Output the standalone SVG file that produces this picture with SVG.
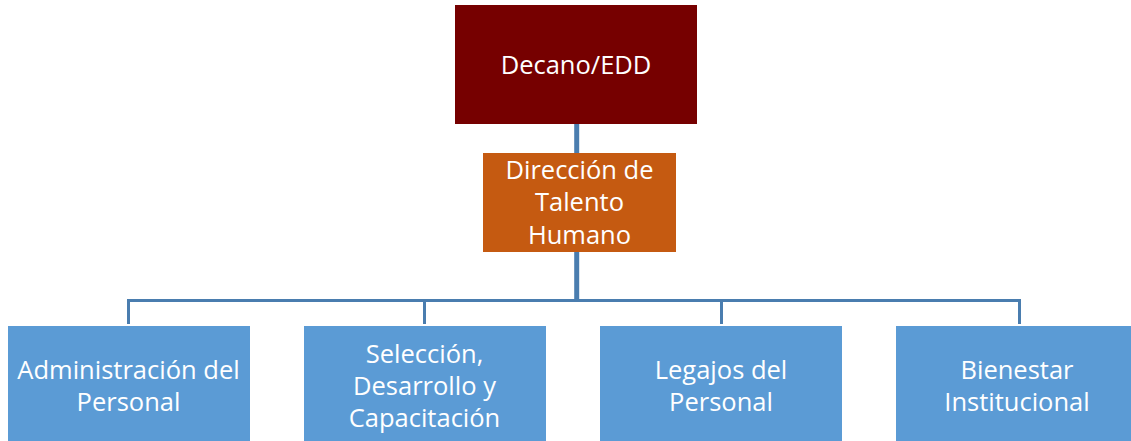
<svg xmlns="http://www.w3.org/2000/svg" width="1131" height="441" viewBox="0 0 1131 441">
<style>
.t{font-family:"Open Sans","Liberation Sans",sans-serif;font-size:25.5px;fill:#ffffff;text-anchor:middle}
.leaf{fill:#5B9BD5}
.c{stroke:#4A7DAF;fill:none}
</style>
<rect width="1131" height="441" fill="#ffffff"/>
<g id="connectors">
<line class="c" x1="576.7" y1="124" x2="576.7" y2="153" stroke-width="5"/>
<line class="c" x1="576.7" y1="252" x2="576.7" y2="300" stroke-width="5"/>
<polyline class="c" points="128.5,324 128.5,300.5 1019.5,300.5 1019.5,324" stroke-width="3"/>
<line class="c" x1="424.5" y1="300.5" x2="424.5" y2="324" stroke-width="3"/>
<line class="c" x1="721.5" y1="300.5" x2="721.5" y2="324" stroke-width="3"/>
</g>
<g id="decano">
<rect x="455" y="5" width="242" height="119" fill="#760000"/>
<text class="t" x="576" y="73.5">Decano/EDD</text>
</g>
<g id="talento">
<rect x="483" y="153" width="193" height="99" fill="#C55A11"/>
<text class="t" x="579.5" y="178.5">Dirección de</text>
<text class="t" x="579.5" y="211">Talento</text>
<text class="t" x="579.5" y="243.5">Humano</text>
</g>
<g id="administracion">
<rect class="leaf" x="8" y="326" width="242" height="120"/>
<text class="t" x="128.5" y="378.5">Administración del</text>
<text class="t" x="128.5" y="410.5">Personal</text>
</g>
<g id="seleccion">
<rect class="leaf" x="304" y="326" width="242" height="120"/>
<text class="t" x="424.5" y="362.5">Selección,</text>
<text class="t" x="424.5" y="394.5">Desarrollo y</text>
<text class="t" x="424.5" y="426.5">Capacitación</text>
</g>
<g id="legajos">
<rect class="leaf" x="600" y="326" width="242" height="120"/>
<text class="t" x="721" y="378.5">Legajos del</text>
<text class="t" x="721" y="410.5">Personal</text>
</g>
<g id="bienestar">
<rect class="leaf" x="896" y="326" width="242" height="120"/>
<text class="t" x="1017" y="378.5">Bienestar</text>
<text class="t" x="1017" y="410.5">Institucional</text>
</g>
</svg>
